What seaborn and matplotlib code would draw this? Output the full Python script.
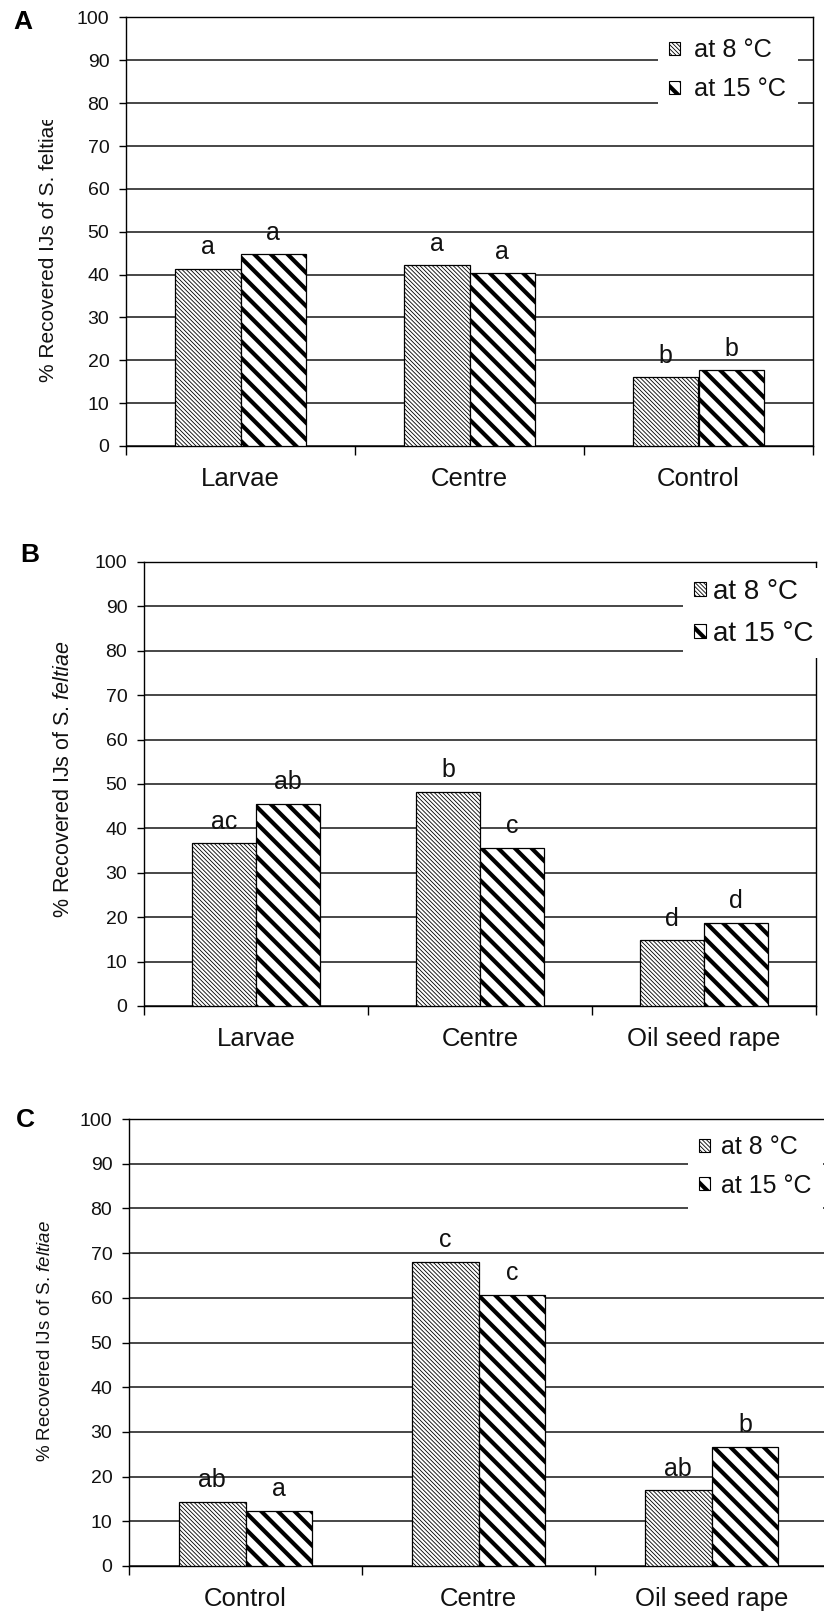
import numpy as np
import pandas as pd
import matplotlib
matplotlib.use("Agg")
import matplotlib.pyplot as plt
import seaborn as sns
from matplotlib.patches import Patch
from matplotlib.transforms import Bbox, TransformedBbox

# ---------------- data ----------------
temps = ["at 8 °C", "at 15 °C"]

cats_A = ["Larvae", "Centre", "Control"]
vals_A_8 = [41.4, 42.2, 16.1]
vals_A_15 = [44.7, 40.4, 17.7]
lets_A_8 = ["a", "a", "b"]
lets_A_15 = ["a", "a", "b"]

cats_B = ["Larvae", "Centre", "Oil seed rape"]
vals_B_8 = [36.6, 48.3, 14.8]
vals_B_15 = [45.5, 35.6, 18.7]
lets_B_8 = ["ac", "b", "d"]
lets_B_15 = ["ab", "c", "d"]

cats_C = ["Control", "Centre", "Oil seed rape"]
vals_C_8 = [14.4, 68.0, 16.9]
vals_C_15 = [12.3, 60.6, 26.7]
lets_C_8 = ["ab", "c", "ab"]
lets_C_15 = ["a", "c", "b"]

yticks = list(range(0, 101, 10))
ylabel_plain = "% Recovered IJs of S. feltiae"
ylabel_ital = r"% Recovered IJs of S. $\mathit{feltiae}$"

# ---------------- style ----------------
sns.set_theme(style="white")
plt.rcParams["font.family"] = ["Liberation Sans", "DejaVu Sans"]
plt.rcParams["mathtext.fontset"] = "custom"
plt.rcParams["mathtext.rm"] = "Liberation Sans"
plt.rcParams["mathtext.it"] = "Liberation Sans:italic"
plt.rcParams["text.color"] = "#111111"

W, H = 824, 1613
fig = plt.figure(figsize=(W / 100, H / 100), dpi=100)

def rect(l, r, t, b):
    return [l / W, 1 - b / H, (r - l) / W, (b - t) / H]

hatches = ["\\" * 8, "\\" * 2]
hatch_lws = [0.6, 3.0]

panels = [
    dict(letter="A", cats=cats_A, v8=vals_A_8, v15=vals_A_15, l8=lets_A_8, l15=lets_A_15,
         box=(126, 813, 17.5, 446), ylabel=ylabel_plain, ylab_xy=(49, 248), ylab_size=15,
         clip_top=120, letter_xy=(23, 22),
         leg_xy=(658, 27), leg_size=18.3, leg_pad=0.45, leg_htp=0.55, width=0.57),
    dict(letter="B", cats=cats_B, v8=vals_B_8, v15=vals_B_15, l8=lets_B_8, l15=lets_B_15,
         box=(144, 816, 562, 1006), ylabel=ylabel_ital, ylab_xy=(64, 779), ylab_size=15.5,
         clip_top=None, letter_xy=(30, 555),
         leg_xy=(683, 568), leg_size=20, leg_pad=0.4, leg_htp=0.25, width=0.57),
    dict(letter="C", cats=cats_C, v8=vals_C_8, v15=vals_C_15, l8=lets_C_8, l15=lets_C_15,
         box=(129, 828, 1119, 1566), ylabel=ylabel_ital, ylab_xy=(46, 1341), ylab_size=13.5,
         clip_top=None, letter_xy=(25, 1120),
         leg_xy=(688, 1124), leg_size=18, leg_pad=0.45, leg_htp=0.45, width=0.575),
]

for P in panels:
    ax = fig.add_axes(rect(*P["box"]))
    cats = P["cats"]
    df = pd.DataFrame({
        "cat": cats + cats,
        "temp": [temps[0]] * 3 + [temps[1]] * 3,
        "val": P["v8"] + P["v15"],
    })
    sns.barplot(data=df, x="cat", y="val", hue="temp", order=cats, hue_order=temps,
                palette=["white", "white"], saturation=1, edgecolor="black",
                linewidth=0.9, width=P["width"], gap=0, errorbar=None,
                legend=False, ax=ax, zorder=3)
    for cont, h, hlw in zip(ax.containers, hatches, hatch_lws):
        for p in cont:
            p.set_hatch(h)
            if hasattr(p, "set_hatch_linewidth"):
                p.set_hatch_linewidth(hlw)
    # significance letters
    for cont, lets, vals in zip(ax.containers, [P["l8"], P["l15"]], [P["v8"], P["v15"]]):
        for p, s, v in zip(cont, lets, vals):
            ax.text(p.get_x() + p.get_width() / 2, v + 3.3, s, ha="center",
                    va="baseline", fontsize=18, color="#111111", zorder=4)

    ax.set_xlim(-0.5, 2.5)
    ax.set_ylim(0, 100)
    ax.set_yticks(yticks)
    ax.set_yticklabels([str(t) for t in yticks], fontsize=14)
    ax.set_xticks([-0.5, 0.5, 1.5, 2.5])
    ax.set_xticklabels(["", "", "", ""])
    ax.set_xticks([0, 1, 2], cats, minor=True)
    ax.tick_params(axis="x", which="minor", length=0, pad=15, labelsize=18.5,
                   labelcolor="#111111")
    ax.tick_params(axis="x", which="major", length=6.5, width=1.0, color="black",
                   direction="out", bottom=True)
    ax.tick_params(axis="y", which="major", length=5, width=1.0, color="black",
                   direction="out", left=True, pad=7, labelcolor="#111111")
    ax.set_xlabel("")
    ax.set_ylabel("")
    ax.yaxis.grid(True, color="#151515", linewidth=1.1)
    ax.xaxis.grid(False)
    ax.set_axisbelow(True)
    for sp in ax.spines.values():
        sp.set_visible(True)
        sp.set_color("black")
        sp.set_linewidth(1.0)

    # legend
    handles = [Patch(facecolor="white", edgecolor="black", hatch=h, linewidth=0.8)
               for h in hatches]
    leg = ax.legend(handles, temps, loc="upper left",
                    bbox_to_anchor=(P["leg_xy"][0] / W, 1 - P["leg_xy"][1] / H),
                    bbox_transform=fig.transFigure, frameon=True, facecolor="white",
                    edgecolor="none", framealpha=1, fancybox=False,
                    borderpad=P["leg_pad"], borderaxespad=0, handlelength=0.42,
                    handleheight=0.42, handletextpad=P["leg_htp"], labelspacing=0.58,
                    prop={"size": P["leg_size"]})
    leg.set_zorder(6)
    for hp, hlw in zip(leg.get_patches(), hatch_lws):
        if hasattr(hp, "set_hatch_linewidth"):
            hp.set_hatch_linewidth(hlw)

    # y label
    yl = fig.text(P["ylab_xy"][0] / W, 1 - P["ylab_xy"][1] / H, P["ylabel"],
                  rotation=90, ha="center", va="center", fontsize=P["ylab_size"],
                  color="#111111", rotation_mode="anchor")
    if P["clip_top"] is not None:
        yl.set_clip_box(TransformedBbox(Bbox([[0, 0], [1, 1 - P["clip_top"] / H]]),
                                        fig.transFigure))
        yl.set_clip_on(True)

    # panel letter
    fig.text(P["letter_xy"][0] / W, 1 - P["letter_xy"][1] / H, P["letter"],
             ha="center", va="center", fontsize=19, fontweight="bold", color="black")

fig.savefig("out.png", dpi=100)
